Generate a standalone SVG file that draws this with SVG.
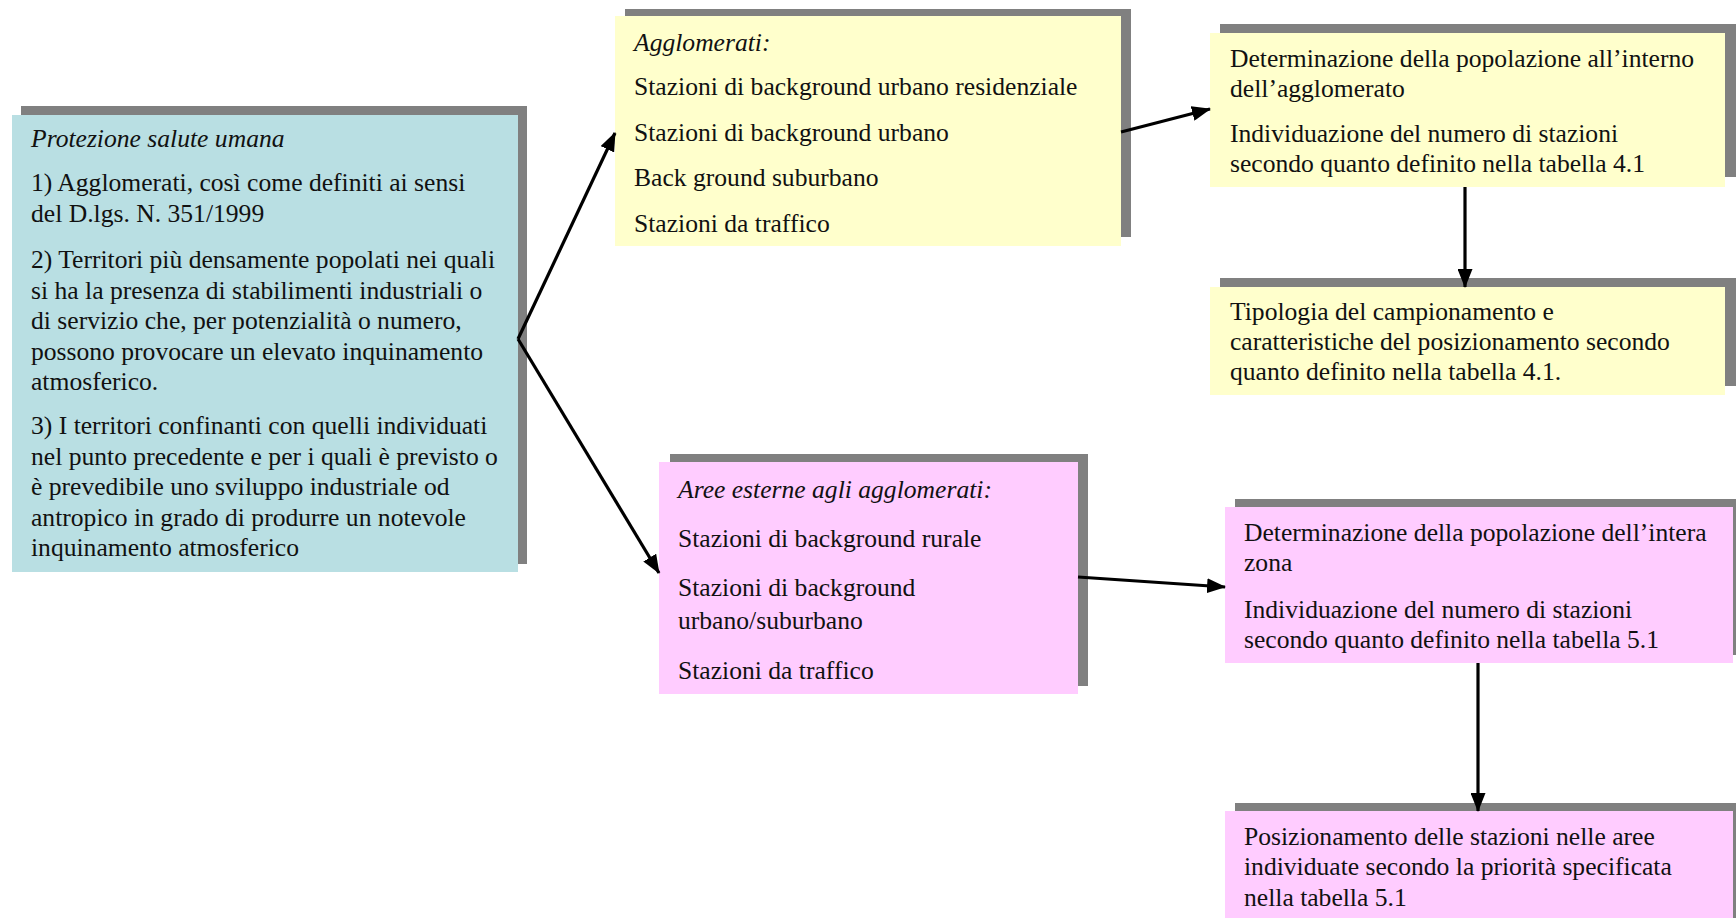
<svg xmlns="http://www.w3.org/2000/svg" width="1736" height="918" viewBox="0 0 1736 918">
<style>
text{font-family:"Liberation Serif","Times New Roman",serif;font-size:25.6px;fill:#111}
.it{font-style:italic}
.sh{fill:#808080}
.blue{fill:#B9DFE3}
.yel{fill:#FFFFCC}
.pink{fill:#FFCCFF}
.conn{stroke:#000;stroke-width:3.2;fill:none;marker-end:url(#ah)}
</style>
<defs>
<marker id="ah" markerUnits="userSpaceOnUse" markerWidth="19" markerHeight="15" refX="18" refY="7.5" orient="auto">
<path d="M0,0 L19,7.5 L0,15 z" fill="#000"/>
</marker>
</defs>
<rect width="1736" height="918" fill="#fff"/>
<g id="n-protezione">
<rect class="sh" x="21" y="106" width="506" height="458"/>
<rect class="blue" x="12" y="115" width="506" height="457"/>
<text class="it" x="31" y="147">Protezione salute umana</text>
<text x="31" y="191">1) Agglomerati, così come definiti ai sensi</text>
<text x="31" y="222">del D.lgs. N. 351/1999</text>
<text x="31" y="268">2) Territori più densamente popolati nei quali</text>
<text x="31" y="299">si ha la presenza di stabilimenti industriali o</text>
<text x="31" y="329">di servizio che, per potenzialità o numero,</text>
<text x="31" y="360">possono provocare un elevato inquinamento</text>
<text x="31" y="390">atmosferico.</text>
<text x="31" y="434">3) I territori confinanti con quelli individuati</text>
<text x="31" y="465">nel punto precedente e per i quali è previsto o</text>
<text x="31" y="495">è prevedibile uno sviluppo industriale od</text>
<text x="31" y="526">antropico in grado di produrre un notevole</text>
<text x="31" y="556">inquinamento atmosferico</text>
</g>
<g id="n-agglomerati">
<rect class="sh" x="625" y="9" width="506" height="228"/>
<rect class="yel" x="615" y="16" width="506" height="230"/>
<text class="it" x="634" y="51">Agglomerati:</text>
<text x="634" y="95">Stazioni di background urbano residenziale</text>
<text x="634" y="141">Stazioni di background urbano</text>
<text x="634" y="186">Back ground suburbano</text>
<text x="634" y="232">Stazioni da traffico</text>
</g>
<g id="n-popolazione-agg">
<rect class="sh" x="1220" y="24" width="516" height="153"/>
<rect class="yel" x="1210" y="33" width="515" height="154"/>
<text x="1230" y="67">Determinazione della popolazione all’interno</text>
<text x="1230" y="97">dell’agglomerato</text>
<text x="1230" y="142">Individuazione del numero di stazioni</text>
<text x="1230" y="172">secondo quanto definito nella tabella 4.1</text>
</g>
<g id="n-tipologia">
<rect class="sh" x="1220" y="278" width="516" height="108"/>
<rect class="yel" x="1210" y="287" width="515" height="108"/>
<text x="1230" y="320">Tipologia del campionamento e</text>
<text x="1230" y="350">caratteristiche del posizionamento secondo</text>
<text x="1230" y="380">quanto definito nella tabella 4.1.</text>
</g>
<g id="n-aree-esterne">
<rect class="sh" x="670" y="454" width="418" height="232"/>
<rect class="pink" x="659" y="462" width="419" height="232"/>
<text class="it" x="678" y="498">Aree esterne agli agglomerati:</text>
<text x="678" y="547">Stazioni di background rurale</text>
<text x="678" y="596">Stazioni di background</text>
<text x="678" y="629">urbano/suburbano</text>
<text x="678" y="679">Stazioni da traffico</text>
</g>
<g id="n-popolazione-zona">
<rect class="sh" x="1235" y="499" width="501" height="156"/>
<rect class="pink" x="1225" y="507" width="508" height="156"/>
<text x="1244" y="541">Determinazione della popolazione dell’intera</text>
<text x="1244" y="571">zona</text>
<text x="1244" y="618">Individuazione del numero di stazioni</text>
<text x="1244" y="648">secondo quanto definito nella tabella 5.1</text>
</g>
<g id="n-posizionamento">
<rect class="sh" x="1235" y="803" width="501" height="115"/>
<rect class="pink" x="1225" y="811" width="508" height="107"/>
<text x="1244" y="845">Posizionamento delle stazioni nelle aree</text>
<text x="1244" y="875">individuate secondo la priorità specificata</text>
<text x="1244" y="906">nella tabella 5.1</text>
</g>
<g id="connectors">
<line class="conn" x1="518" y1="339" x2="615" y2="133"/>
<line class="conn" x1="518" y1="339" x2="659" y2="573"/>
<line class="conn" x1="1121" y1="132" x2="1210" y2="109"/>
<line class="conn" x1="1078" y1="577" x2="1225" y2="587"/>
<line class="conn" x1="1465" y1="187" x2="1465" y2="287"/>
<line class="conn" x1="1478" y1="663" x2="1478" y2="811"/>
</g>
</svg>
